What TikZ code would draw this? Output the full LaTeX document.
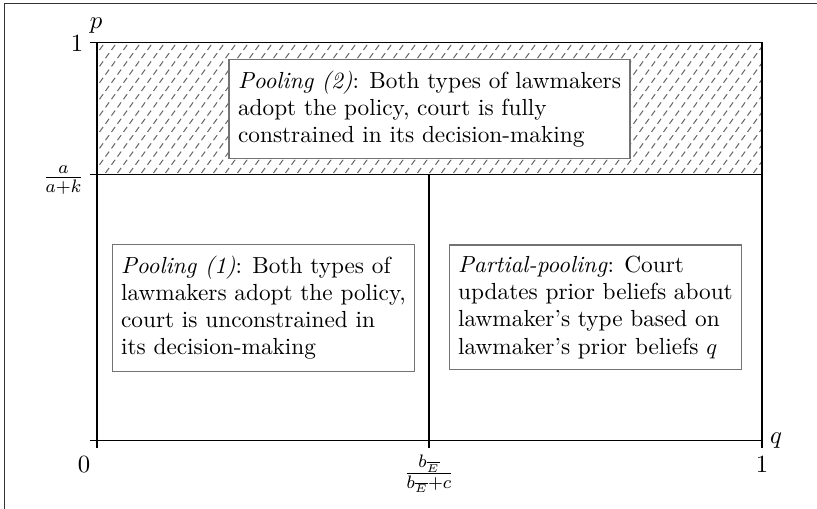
\documentclass[tikz,border=0pt]{standalone}
\usepackage{amsmath}
\begin{document}
\begin{tikzpicture}[x=0.4425pt,y=-0.4425pt,
  axis/.style={line width=0.45pt,black},
  hatch/.style={line width=0.45pt,black!60},
  regionbox/.style={draw=black!55,line width=0.5pt,fill=white,align=left,inner xsep=4pt,inner ysep=5pt,
    font=\fontsize{10.3pt}{12pt}\selectfont},
  lbl/.style={inner sep=0pt,font=\fontsize{10.8pt}{13pt}\selectfont}]
\useasboundingbox (0,0) rectangle (817,509);
% outer frame
\draw[line width=0.7pt,black!80] (4.5,3.5) rectangle (840,540);
% coordinates
\coordinate (O) at (97,441);
\coordinate (Y1) at (97,43);
\coordinate (YM) at (97,175);
\coordinate (X1) at (762,441);
\coordinate (XM) at (429,441);
\coordinate (TR) at (762,43);
\coordinate (MR) at (762,175);
\coordinate (MM) at (429,175);
% hatching
\begin{scope}
\clip (Y1) rectangle (MR);
\foreach \j in {0,...,16}{
  \foreach \i in {0,...,56}{
    \draw[hatch] ({99.5+12*\i+mod(\j,2)*6},{50+8.2*\j}) -- ++(3.6,-5);
  }
}
\end{scope}
% axes and lines
\draw[axis] (90,43) -- (TR) -- (X1) -- (762,448);
\draw[axis] (Y1) -- (97,448);
\draw[axis] (90,441) -- (X1);
\draw[axis] (90,175) -- (MR);
\draw[axis] (MM) -- (429,448);
% region boxes
\node[regionbox] (pool2) at (429.5,109) {\textit{Pooling (2)}: Both types of lawmakers\\adopt the policy, court is fully\\constrained in its decision-making};
\node[regionbox] (pool1) at (263.5,308) {\textit{Pooling (1)}: Both types of\\lawmakers adopt the policy,\\court is unconstrained in\\its decision-making};
\node[regionbox] (partial) at (595.5,307.5) {\textit{Partial-pooling}: Court\\updates prior beliefs about\\lawmaker's type based on\\lawmaker's prior beliefs $q$};
% labels
\node[lbl] (l1) at (77,44) {$1$};
\node[lbl,anchor=base] (lp) at (96,29) {$p$};
\node[lbl] (lak) at (63.5,180) {$\frac{a}{a+k}$};
\node[lbl] (l0) at (84,465) {$0$};
\node[lbl] (lbE) at (429,474) {$\frac{b_{\overline{E}}}{b_{\overline{E}}+c}$};
\node[lbl] (lx1) at (762,465) {$1$};
\node[lbl,anchor=base] (lq) at (776,444) {$q$};
\end{tikzpicture}
\end{document}
